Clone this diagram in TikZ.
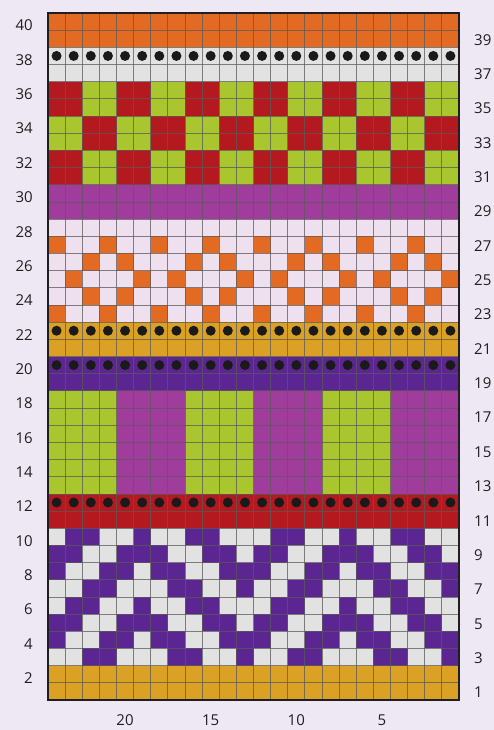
\documentclass[tikz,border=0pt]{standalone}
\usepackage{fontspec}
\setmainfont{Open Sans}
\definecolor{bgc}{HTML}{EEE8F4}
\definecolor{orng}{HTML}{E36A22}
\definecolor{lgray}{HTML}{E2E2E2}
\definecolor{redc}{HTML}{B3191E}
\definecolor{grn}{HTML}{A9C62E}
\definecolor{mag}{HTML}{A03D9C}
\definecolor{lpink}{HTML}{EFE0EF}
\definecolor{gold}{HTML}{DBA124}
\definecolor{purp}{HTML}{5B2691}
\definecolor{dotc}{HTML}{1A1A1A}
\definecolor{gridc}{HTML}{5A5A5A}
\newcommand{\cw}{17.125}
\newcommand{\ch}{17.175}
% \kcell{col from left 0..23}{row 1..40}{colour}
\newcommand{\kcell}[3]{\fill[#3] ({48+\cw*(#1)},{700-\ch*(#2)}) rectangle ++(\cw,\ch);}
% \kband{row low}{row high}{colour}
\newcommand{\kband}[3]{\fill[#3] (48,{700-\ch*(#2)}) rectangle (459,{700-\ch*((#1)-1)});}
\newcommand{\kdots}[1]{\foreach \c in {0,...,23}{\fill[dotc] ({48+\cw*(\c+0.5)},{700-\ch*((#1)-0.5)}) circle (5);}}
\tikzset{
  rowlab/.style={font=\fontsize{15}{17}\selectfont, text=black!88, inner sep=0pt},
}
\begin{document}
\begin{tikzpicture}[x=1pt,y=-1pt]
\fill[bgc] (0,0) rectangle (494,730);
\useasboundingbox (0,0) rectangle (494,730);
% bands
\kband{39}{40}{orng}
\kband{37}{38}{lgray}
\kband{31}{36}{grn}
\foreach \r in {31,...,36}{\foreach \c in {0,...,23}{
  \pgfmathtruncatemacro{\s}{mod(floor(\c/2)+floor((\r-31)/2),2)}
  \ifnum\s=0 \kcell{\c}{\r}{redc}\fi}}
\kband{29}{30}{mag}
\kband{23}{28}{lpink}
\foreach \r in {23,27}{\foreach \c in {0,3,...,21}{\kcell{\c}{\r}{orng}}}
\foreach \r in {24,26}{\foreach \k in {0,6,12,18}{\kcell{\k+2}{\r}{orng}\kcell{\k+4}{\r}{orng}}}
\foreach \k in {0,6,12,18}{\kcell{\k+1}{25}{orng}\kcell{\k+5}{25}{orng}}
\kband{21}{22}{gold}
\kband{19}{20}{purp}
\kband{13}{18}{grn}
\foreach \k in {4,12,20}{\fill[mag] ({48+\cw*\k},{700-\ch*18}) rectangle ++({4*\cw},{6*\ch});}
\kband{11}{12}{redc}
\kband{3}{10}{lgray}
\foreach \k in {0,12}{
  \foreach \r in {3,7}{\foreach \c in {2,3,7,8,11}{\kcell{\k+\c}{\r}{purp}}}
  \foreach \r in {4,8}{\foreach \c in {0,3,4,6,7,10,11}{\kcell{\k+\c}{\r}{purp}}}
  \foreach \r in {5,9}{\foreach \c in {0,1,4,5,6,9,10}{\kcell{\k+\c}{\r}{purp}}}
  \foreach \r in {6,10}{\foreach \c in {1,2,5,8,9}{\kcell{\k+\c}{\r}{purp}}}
}
\kband{1}{2}{gold}
% grid
\foreach \i in {1,...,23}{\draw[gridc, line width=0.8pt, opacity=0.75] ({48+\cw*\i},{700-\ch*40}) -- ({48+\cw*\i},700);}
\foreach \j in {1,...,39}{\draw[gridc, line width=0.8pt, opacity=0.75] (48,{700-\ch*\j}) -- (459,{700-\ch*\j});}
% dots
\kdots{38}
\kdots{22}
\kdots{20}
\kdots{12}
% border
\draw[black!88, line width=2.6pt] (48,{700-\ch*40}) rectangle (459,700);
% row labels
\foreach \r in {2,4,...,40}{\node[rowlab, anchor=east] (L\r) at (33,{700-\ch*(\r-0.5)+4}) {\r};}
\foreach \r in {1,3,...,39}{\node[rowlab, anchor=west] (R\r) at (474,{700-\ch*(\r-0.5)+1}) {\r};}
\foreach \n in {5,10,15,20}{\node[rowlab] (B\n) at ({459-\cw*(\n-0.5)},720.5) {\n};}
\end{tikzpicture}
\end{document}
